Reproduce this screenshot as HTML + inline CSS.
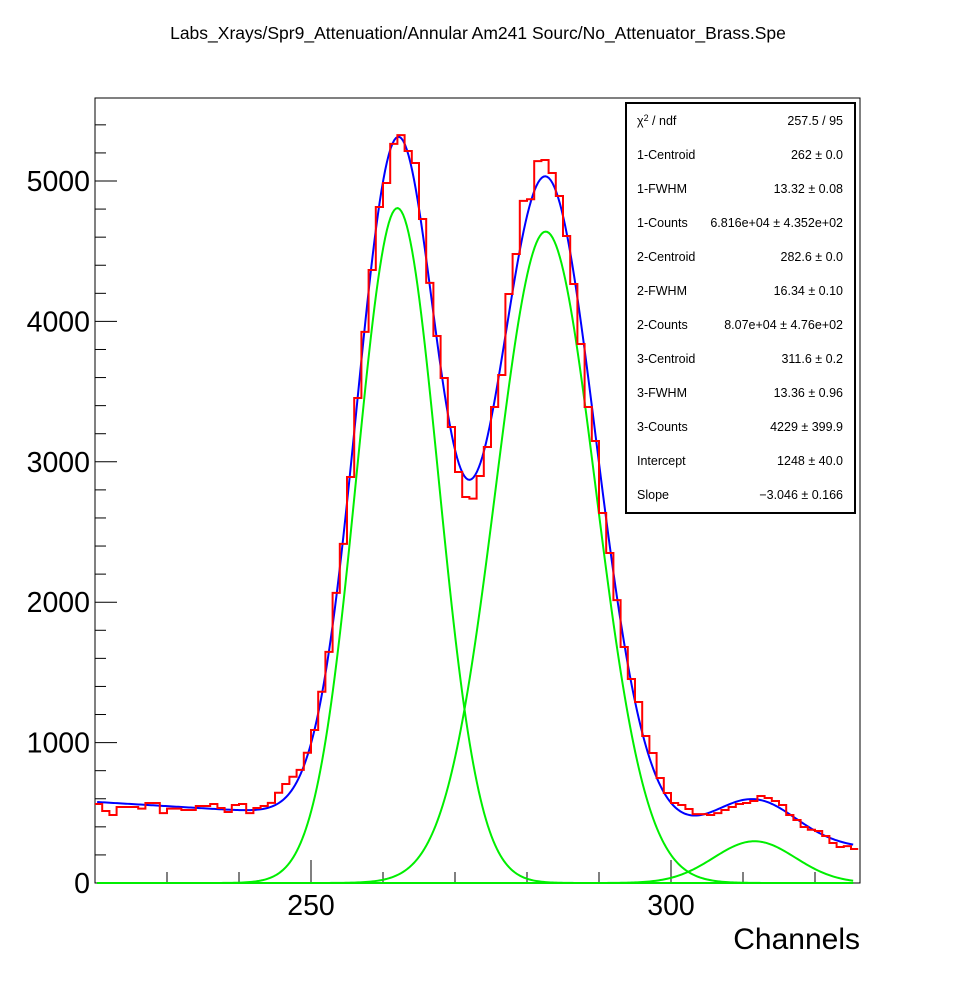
<!DOCTYPE html>
<html><head><meta charset="utf-8"><style>
body{margin:0;background:#fff;width:956px;height:982px;overflow:hidden}
svg{display:block;font-family:"Liberation Sans",Arial,sans-serif}
</style></head><body>
<svg id="chart" width="956" height="982" viewBox="0 0 956 982" xmlns="http://www.w3.org/2000/svg">
<text x="478" y="39" font-size="17.5" text-anchor="middle">Labs_Xrays/Spr9_Attenuation/Annular Am241 Sourc/No_Attenuator_Brass.Spe</text>
<rect x="95" y="98" width="765" height="785" fill="none" stroke="#000" stroke-width="1"/>
<g id="ticks"></g>
<g id="curves"></g>
<path id="hist" fill="none" stroke="#ff0000" stroke-width="2"/>
<g id="stats"></g>
<text x="860" y="949" font-size="30" text-anchor="end">Channels</text>
</svg>
<script>
const binStart = 220;
const counts = [563,513,484,541,541,541,530,570,570,498,530,530,520,520,548,548,563,534,506,556,563,498,534,548,571,643,705,757,806,928,1090,1362,1646,2066,2415,2892,3454,3925,4366,4815,4986,5264,5327,5214,5128,4729,4274,3896,3597,3248,2927,2749,2738,2899,3105,3390,3618,4195,4480,4858,4870,5142,5150,5057,4893,4608,4266,3839,3390,3148,2635,2350,2015,1681,1453,1289,1047,926,748,641,570,556,527,491,491,484,498,520,541,563,570,584,620,605,584,556,484,449,399,379,370,335,285,256,263,242];
const centroids = [262,282.6,311.6];
const fwhms = [13.32,16.34,13.36];
const areas = [68160,80700,4229];
const intercept = 1248, slope = -3.046;
const yTicks = [0,1000,2000,3000,4000,5000];
const xTicks = [250,300];
const statLabels = ["χ² / ndf","1-Centroid","1-FWHM","1-Counts","2-Centroid","2-FWHM","2-Counts","3-Centroid","3-FWHM","3-Counts","Intercept","Slope"];
const statValues = ["257.5 / 95","262 ± 0.0","13.32 ± 0.08","6.816e+04 ± 4.352e+02","282.6 ± 0.0","16.34 ± 0.10","8.07e+04 ± 4.76e+02","311.6 ± 0.2","13.36 ± 0.96","4229 ± 399.9","1248 ± 40.0","−3.046 ± 0.166"];

const X0=95,X1=860,Y0=883,Y1=98,xmin=220,xmax=326.25,ymax=(883-98)/0.1404;
const sx=v=>X0+(v-xmin)/(xmax-xmin)*(X1-X0);
const sy=v=>Y0-v/ymax*(Y0-Y1);
const NS="http://www.w3.org/2000/svg";
function mk(tag,attrs,parent){const e=document.createElementNS(NS,tag);for(const k in attrs)e.setAttribute(k,attrs[k]);parent.appendChild(e);return e;}

let d="M"+sx(binStart)+","+sy(counts[0]);
counts.forEach((c,i)=>{d+=" L"+sx(binStart+i)+","+sy(c)+" L"+sx(binStart+i+1)+","+sy(c);});
document.getElementById('hist').setAttribute('d',d);

const tg=document.getElementById('ticks');
for(let v=0;v<=5400;v+=200){
  const major=v%1000===0;
  const t=mk('line',{x1:X0,x2:X0+(major?22:11),y1:sy(v),y2:sy(v),stroke:'#000','stroke-width':1},tg);
  
  
}
yTicks.forEach(v=>{const t=mk('text',{x:90,y:sy(v)+10,'font-size':28.5,'text-anchor':'end'},tg);t.textContent=v;
  
  });
for(let v=230;v<=320;v+=10){
  const major=v%50===0;
  const t=mk('line',{x1:sx(v),x2:sx(v),y1:Y0,y2:Y0-(major?23:11),stroke:'#000','stroke-width':1},tg);
  
  
}
xTicks.forEach(v=>{const t=mk('text',{x:sx(v),y:915,'font-size':28.5,'text-anchor':'middle'},tg);t.textContent=v;
  
  });

const cg=document.getElementById('curves');
const gauss=(i,x)=>{const s=fwhms[i]/2.3548;return areas[i]/(s*Math.sqrt(2*Math.PI))*Math.exp(-0.5*((x-centroids[i])/s)**2);};
const xs=[];for(let x=220.3;x<=325.5;x+=0.25)xs.push(x);
for(let i=0;i<3;i++){
  const p=mk('path',{d:'M'+xs.map(x=>sx(x)+','+sy(gauss(i,x))).join(' L'),fill:'none',stroke:'#00ee00','stroke-width':2},cg);
  
  
}
const tot=mk('path',{d:'M'+xs.map(x=>sx(x)+','+sy(intercept+slope*x+gauss(0,x)+gauss(1,x)+gauss(2,x))).join(' L'),fill:'none',stroke:'#0000ff','stroke-width':2},cg);



const sg=document.getElementById('stats');
const box=mk('rect',{x:626,y:103,width:229,height:410,fill:'#fff',stroke:'#000','stroke-width':2},sg);


statLabels.forEach((l,i)=>{
  const y=125+i*34;
  const a=mk('text',{x:637,y:y,'font-size':12.5},sg);
  if(i===0){a.innerHTML='χ<tspan dy="-4" font-size="9">2</tspan><tspan dy="4"> / ndf</tspan>';}else a.textContent=l;
  
  
  const b=mk('text',{x:843,y:y,'font-size':12.5,'text-anchor':'end'},sg);b.textContent=statValues[i];
  
  
});
</script>
</body></html>
